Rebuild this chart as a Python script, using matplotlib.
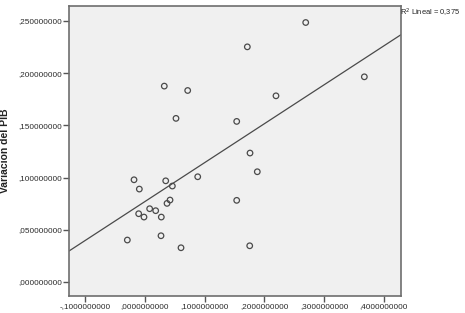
import numpy as np
import matplotlib
matplotlib.use("Agg")
import matplotlib.pyplot as plt
from matplotlib.ticker import FixedLocator

plt.rcParams['font.family'] = ['Liberation Sans', 'DejaVu Sans']

# Scatter data
x_vals = [0.0323, 0.0715, 0.0519, 0.1536, 0.2692, 0.1714, 0.3674, 0.2194, 0.1759,
          -0.0184, -0.0095, 0.0347, 0.0458, 0.0883, 0.0419, 0.0369, -0.0106,
          -0.0017, 0.0078, 0.0179, 0.0273, 0.0268, -0.0296, 0.0603, 0.1536,
          0.1881, 0.1754]
y_vals = [0.1876, 0.1834, 0.1567, 0.1538, 0.2485, 0.2252, 0.1965, 0.1783, 0.1235,
          0.0979, 0.0890, 0.0969, 0.0919, 0.1008, 0.0785, 0.0753, 0.0654,
          0.0622, 0.0702, 0.0683, 0.0622, 0.0443, 0.0402, 0.0328, 0.0782,
          0.1056, 0.0347]

# fit line as shown in the picture
fit_intercept = 0.0771
fit_slope = 0.3725
r2_text = "R$^2$ Lineal = 0,375"

x_ticks = [-0.1, 0.0, 0.1, 0.2, 0.3, 0.4]
x_labels = ["-,1000000000", ",0000000000", ",1000000000", ",2000000000",
            ",3000000000", ",4000000000"]
y_ticks = [0.0, 0.05, 0.10, 0.15, 0.20, 0.25]
y_labels = [",000000000", ",050000000", ",100000000", ",150000000",
            ",200000000", ",250000000"]

fig = plt.figure(figsize=(4.65, 3.13), dpi=100)
ax = fig.add_axes([0.1484, 0.0553, 0.7133, 0.9255])
ax.set_facecolor('#f0f0f0')

xlim = (-0.1273, 0.4283)
ylim = (-0.0131, 0.2643)

ax.scatter(x_vals, y_vals, s=16, facecolors='none', edgecolors='#4a4a4a',
           linewidths=0.9, zorder=3)

xs = np.array(xlim)
ax.plot(xs, fit_intercept + fit_slope * xs, color='#4a4a4a', linewidth=0.9, zorder=2)

ax.set_xlim(*xlim)
ax.set_ylim(*ylim)
ax.xaxis.set_major_locator(FixedLocator(x_ticks))
ax.yaxis.set_major_locator(FixedLocator(y_ticks))
ax.set_xticklabels(x_labels)
ax.set_yticklabels(y_labels)
ax.tick_params(axis='both', direction='out', length=4, width=1, color='#555555',
               labelsize=5.9, labelcolor='#2a2a2a', pad=1)

for sp in ax.spines.values():
    sp.set_color('#6e6e6e')
    sp.set_linewidth(1.2)

ax.set_ylabel("Variacion del PIB", fontsize=7.5, fontweight='bold', color='#222222',
              labelpad=6)

fig.text(0.8605, 0.958, r2_text, fontsize=5.4, color='#222222', ha='left', va='center')

fig.savefig("out.png", dpi=100)
